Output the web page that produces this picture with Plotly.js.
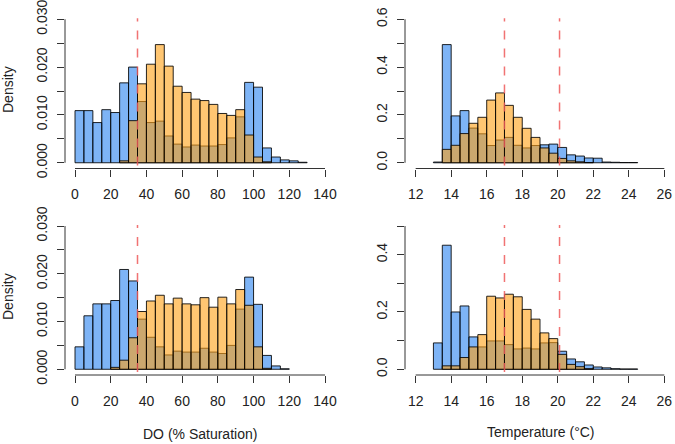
<!DOCTYPE html>
<html>
<head>
<meta charset="utf-8">
<script src="https://cdn.plot.ly/plotly-3.0.1.min.js"></script>
<style>html,body{margin:0;padding:0;background:#fff;}#chart{width:675px;height:444px;}</style>
</head>
<body>
<div id="chart"></div>
<script>
// ---- Data ----
const doBinStart = 0, doBinWidth = 5;           // DO bins: 0-5, 5-10, ... 125-130
const tempBinStart = 13, tempBinWidth = 0.5;    // Temperature bins: 13.0-13.5 ... 24.0-24.5

const doTopBlue = [0.0109,0.0109,0.0084,0.0111,0.0105,0.0167,0.0200,0.0128,0.0084,0.0087,0.0056,0.0039,0.0033,0.0037,0.0035,0.0035,0.0038,0.0052,0.0096,0.0168,0.0158,0.0031,0.0012,0.0006,0.0004,0.0001];
const doTopOrange = [null,null,null,null,null,0.0004,0.0088,0.0165,0.0206,0.0247,0.0202,0.0160,0.0147,0.0133,0.0130,0.0122,0.0103,0.0099,0.0111,0.0058,0.0012,0.0002];
const doBottomBlue = [0.0047,0.0112,0.0137,0.0137,0.0144,0.0209,0.0185,0.0105,0.0067,0.0047,0.0030,0.0038,0.0036,0.0036,0.0044,0.0036,0.0033,0.0050,0.0126,0.0193,0.0136,0.0029,0.0007,0.0001];
const doBottomOrange = [null,null,null,null,0.0004,0.0019,0.0066,0.0121,0.0143,0.0155,0.0137,0.0149,0.0137,0.0135,0.0150,0.0130,0.0151,0.0137,0.0167,0.0134,0.0047,0.0002];

const tempTopBlue = [0.003,0.494,0.196,0.218,0.145,0.121,0.072,0.095,0.106,0.073,0.062,0.072,0.075,0.078,0.064,0.033,0.028,0.020,0.019,0.003,0.002,0.001,0.001];
const tempTopOrange = [null,0.056,0.073,0.122,0.165,0.190,0.262,0.292,0.240,0.190,0.144,0.106,0.062,0.040,0.018,0.008,0.004,0.001];
const tempBottomBlue = [0.092,0.433,0.200,0.221,0.113,0.078,0.099,0.099,0.086,0.071,0.074,0.071,0.092,0.093,0.063,0.036,0.026,0.015,0.008,0.005,0.002,0.001,0.001];
const tempBottomOrange = [null,0.012,0.012,0.041,0.078,0.121,0.255,0.249,0.262,0.253,0.209,0.175,0.127,0.107,0.052,0.017,0.009,0.002];

const doThresholds = [35];
const tempThresholds = [17, 20.1];

const doTickVals = [0,20,40,60,80,100,120,140];
const tempTickVals = [12,14,16,18,20,22,24,26];
const doDensityTicks = [0,0.005,0.010,0.015,0.020,0.025,0.030];
const doDensityLabels = ['0.000','','0.010','','0.020','','0.030'];
const tempTopTicks = [0,0.1,0.2,0.3,0.4,0.5,0.6];
const tempTopLabels = ['0.0','','0.2','','0.4','','0.6'];
const tempBottomTicks = [0,0.1,0.2,0.3,0.4,0.5];
const tempBottomLabels = ['0.0','','0.2','','0.4',''];

const xTitleDO = 'DO (% Saturation)';
const xTitleTemp = 'Temperature (°C)';
const yTitle = 'Density';

// ---- Styling ----
const BLUE = 'rgba(40,130,240,0.6)';
const ORANGE = 'rgba(255,160,20,0.6)';
const EDGE = 'rgba(0,0,0,0.85)';
const FONT = 'Liberation Sans, Arial, sans-serif';
const TXT = '#222';

function centers(n, start, w){ return Array.from({length:n}, (_,i)=> start + w*i + w/2); }

function barTrace(vals, start, w, color, xa, ya){
  return {type:'bar', x: centers(vals.length, start, w), y: vals, width: w,
    marker:{color: color, line:{color: EDGE, width: 1}},
    xaxis: xa, yaxis: ya, hoverinfo:'skip', showlegend:false};
}

const data = [
  barTrace(doTopBlue, doBinStart, doBinWidth, BLUE, 'x', 'y'),
  barTrace(doTopOrange, doBinStart, doBinWidth, ORANGE, 'x', 'y'),
  barTrace(tempTopBlue, tempBinStart, tempBinWidth, BLUE, 'x2', 'y2'),
  barTrace(tempTopOrange, tempBinStart, tempBinWidth, ORANGE, 'x2', 'y2'),
  barTrace(doBottomBlue, doBinStart, doBinWidth, BLUE, 'x3', 'y3'),
  barTrace(doBottomOrange, doBinStart, doBinWidth, ORANGE, 'x3', 'y3'),
  barTrace(tempBottomBlue, tempBinStart, tempBinWidth, BLUE, 'x4', 'y4'),
  barTrace(tempBottomOrange, tempBinStart, tempBinWidth, ORANGE, 'x4', 'y4')
];

const W = 675, H = 444;
const px = v => v / W, py = v => 1 - v / H;

function xAxis(domainPx, range, ticks, anchor){
  return {domain:[px(domainPx[0]), px(domainPx[1])], range: range, anchor: anchor,
    tickmode:'array', tickvals: ticks, ticktext: ticks.map(String),
    ticks:'outside', ticklen:7, tickwidth:1, tickcolor:'#333',
    showline:false, showgrid:false, zeroline:false, ticklabelstandoff: 6,
    ticklabeloverflow:'allow',
    tickfont:{family:FONT, size:14, color:TXT}};
}
function yAxis(domainPx, range, ticks, labels, anchor){
  return {domain:[py(domainPx[1]), py(domainPx[0])], range: range, anchor: anchor,
    tickmode:'array', tickvals: ticks, ticktext: labels, tickangle:-90,
    ticks:'outside', ticklen:7, tickwidth:1, tickcolor:'#333',
    showline:false, showgrid:false, zeroline:false, ticklabelstandoff: 4,
    ticklabeloverflow:'allow',
    tickfont:{family:FONT, size:14, color:TXT}};
}

const topPx = [13.5, 168.5], botPx = [220.3, 375];

const layout = {
  width: W, height: H, margin:{l:0,r:0,t:0,b:0},
  paper_bgcolor:'#fff', plot_bgcolor:'#fff',
  barmode:'overlay', bargap:0, showlegend:false,
  font:{family:FONT, size:14, color:TXT},
  xaxis:  xAxis([65,335], [-5.6,145.6], doTickVals, 'y'),
  yaxis:  yAxis(topPx, [-0.0012,0.0312], doDensityTicks, doDensityLabels, 'x'),
  xaxis2: xAxis([405,675], [11.4,26.6], tempTickVals, 'y2'),
  yaxis2: yAxis(topPx, [-0.024,0.624], tempTopTicks, tempTopLabels, 'x2'),
  xaxis3: xAxis([65,335], [-5.6,145.6], doTickVals, 'y3'),
  yaxis3: yAxis(botPx, [-0.0012,0.0312], doDensityTicks, doDensityLabels, 'x3'),
  xaxis4: xAxis([405,675], [11.4,26.6], tempTickVals, 'y4'),
  yaxis4: yAxis(botPx, [-0.02,0.52], tempBottomTicks, tempBottomLabels, 'x4'),
  shapes: [],
  annotations: []
};

const panels = [
  {x:'x', y:'y', xt:doTickVals, yt:doDensityTicks, thr:doThresholds},
  {x:'x2', y:'y2', xt:tempTickVals, yt:tempTopTicks, thr:tempThresholds},
  {x:'x3', y:'y3', xt:doTickVals, yt:doDensityTicks, thr:doThresholds},
  {x:'x4', y:'y4', xt:tempTickVals, yt:tempBottomTicks, thr:tempThresholds}
];
const axisLine = {color:'#333', width:1};
panels.forEach(p => {
  // R-style axis lines spanning first to last tick
  layout.shapes.push({type:'line', xref:p.x, yref:p.y+' domain', x0:p.xt[0], x1:p.xt[p.xt.length-1], y0:0, y1:0, line:axisLine});
  layout.shapes.push({type:'line', xref:p.x+' domain', yref:p.y, x0:0, x1:0, y0:p.yt[0], y1:p.yt[p.yt.length-1], line:axisLine});
  p.thr.forEach(t => layout.shapes.push({type:'line', xref:p.x, yref:p.y+' domain', x0:t, x1:t, y0:0.02, y1:0.97,
    line:{color:'rgba(238,90,90,0.85)', width:1.5, dash:'dash'}}));
});

// axis titles
const tf = {family:FONT,size:14,color:TXT};
layout.annotations.push(
  {text:yTitle, xref:'paper', yref:'paper', x:px(8), y:py(90), xanchor:'center', yanchor:'middle', textangle:-90, showarrow:false, font:tf},
  {text:yTitle, xref:'paper', yref:'paper', x:px(8), y:py(297), xanchor:'center', yanchor:'middle', textangle:-90, showarrow:false, font:tf},
  {text:xTitleDO, xref:'paper', yref:'paper', x:px(200), y:py(434), xanchor:'center', yanchor:'middle', showarrow:false, font:tf},
  {text:xTitleTemp, xref:'paper', yref:'paper', x:px(541), y:py(432), xanchor:'center', yanchor:'middle', showarrow:false, font:tf}
);

Plotly.newPlot('chart', data, layout, {staticPlot:true, displayModeBar:false});
</script>
</body>
</html>
